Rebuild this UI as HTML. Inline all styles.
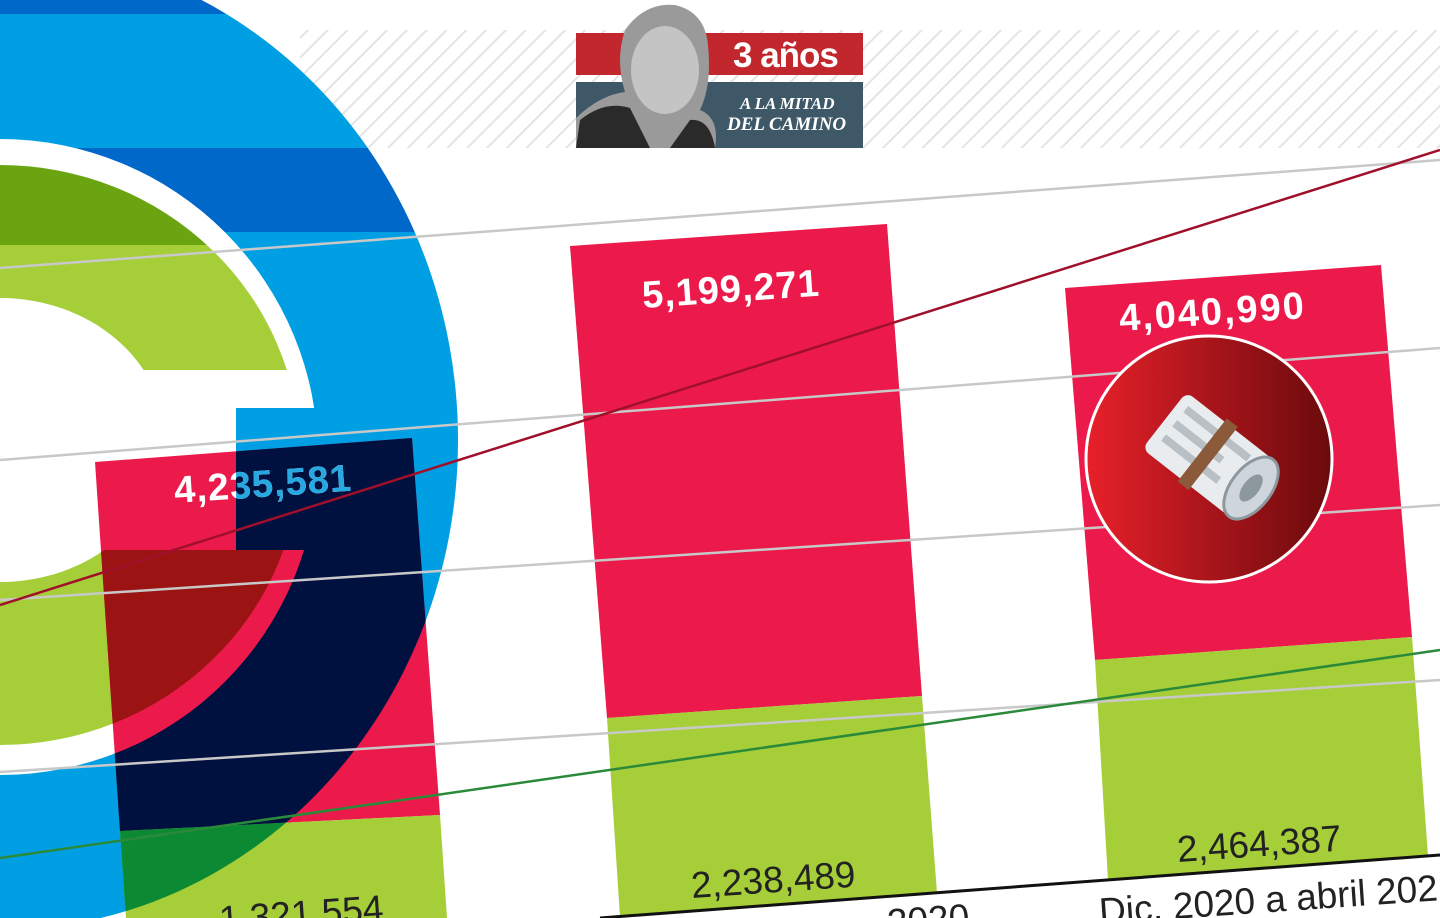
<!DOCTYPE html>
<html><head><meta charset="utf-8"><style>
html,body{margin:0;padding:0;background:#fff;}
svg{display:block;}
text{font-family:"Liberation Sans",sans-serif;}
text.serif{font-family:"Liberation Serif",serif;}
</style></head><body>
<svg width="1440" height="918" viewBox="0 0 1440 918" xmlns="http://www.w3.org/2000/svg">
<defs>
<pattern id="hatch" patternUnits="userSpaceOnUse" width="14" height="14" patternTransform="rotate(45)">
<rect width="14" height="14" fill="#fff"/><rect width="2" height="14" fill="#e4e4e4"/>
</pattern>
<mask id="mb" maskUnits="userSpaceOnUse" x="0" y="0" width="1440" height="918">
<ellipse cx="0" cy="440" rx="458" ry="490" fill="#fff"/>
<ellipse cx="0" cy="457" rx="318" ry="318" fill="#000"/>
<rect x="236" y="408" width="100" height="142" fill="#fff"/>
</mask>
<mask id="mg" maskUnits="userSpaceOnUse" x="0" y="0" width="1440" height="918">
<ellipse cx="0" cy="455" rx="300" ry="290" fill="#fff"/>
<ellipse cx="0" cy="440" rx="165" ry="142" fill="#000"/>
<rect x="90" y="370" width="400" height="180" fill="#000"/>
</mask>
<clipPath id="b1r"><polygon points="95,462 412,438 440,815 120,831"/></clipPath>
<clipPath id="b1g"><polygon points="120,831 440,815 447,918 126,918"/></clipPath>
<linearGradient id="ig" x1="0" y1="0" x2="1" y2="0">
<stop offset="0" stop-color="#e8202a"/><stop offset="1" stop-color="#6a0a0c"/>
</linearGradient>
</defs>

<rect x="300" y="30" width="1140" height="118" fill="url(#hatch)"/>

<g mask="url(#mb)">
<rect x="0" y="0" width="460" height="918" fill="#009fe3"/>
<rect x="0" y="0" width="460" height="14" fill="#0068c8"/>
<rect x="0" y="148" width="460" height="84" fill="#0068c8"/>
</g>
<g mask="url(#mg)">
<rect x="0" y="0" width="320" height="918" fill="#a6ce39"/>
<rect x="0" y="160" width="320" height="85" fill="#6aa511"/>
</g>

<polygon points="95,462 412,438 440,815 120,831" fill="#ec1a4b"/>
<polygon points="120,831 440,815 447,918 126,918" fill="#a6ce39"/>
<polygon points="570,246 887,224 922,696 607,718" fill="#ec1a4b"/>
<polygon points="607,718 922,696 937,893 620,917" fill="#a6ce39"/>
<polygon points="1065,288 1381,265 1412,637 1095,660" fill="#ec1a4b"/>
<polygon points="1095,660 1412,637 1428,856 1108,880" fill="#a6ce39"/>

<g clip-path="url(#b1r)">
<rect x="0" y="0" width="460" height="918" fill="#00103f" mask="url(#mb)"/>
<rect x="0" y="0" width="460" height="918" fill="#9b1313" mask="url(#mg)"/>
</g>
<g clip-path="url(#b1g)">
<rect x="0" y="0" width="460" height="918" fill="#0b8a33" mask="url(#mb)"/>
</g>

<g stroke="#c8c8c8" stroke-width="2.5">
<line x1="0" y1="268" x2="1440" y2="160"/>
<line x1="0" y1="460" x2="1440" y2="348"/>
<line x1="0" y1="600" x2="1440" y2="505"/>
<line x1="0" y1="772" x2="1440" y2="680"/>
</g>
<line x1="0" y1="605" x2="1440" y2="150" stroke="#a0102a" stroke-width="2.5"/>
<line x1="0" y1="858" x2="1440" y2="650" stroke="#2a8a3a" stroke-width="2.5"/>
<line x1="600" y1="918" x2="1440" y2="855" stroke="#111" stroke-width="3"/>

<g font-weight="bold" font-size="38" fill="#fff" letter-spacing="1">
<text x="175" y="503" transform="rotate(-4 175 503)">4,235,581</text>
<g mask="url(#mb)"><text x="175" y="503" transform="rotate(-4 175 503)" fill="#27a8e0">4,235,581</text></g>
<text x="643" y="308" transform="rotate(-4 643 308)">5,199,271</text>
<text x="1120" y="331" transform="rotate(-4 1120 331)" letter-spacing="2">4,040,990</text>
</g>
<g font-size="37" fill="#222">
<text x="692" y="898" transform="rotate(-4 692 898)">2,238,489</text>
<text x="1178" y="862" transform="rotate(-4 1178 862)">2,464,387</text>
<text x="220" y="932" transform="rotate(-4 220 932)">1,321,554</text>
<text x="888" y="935" transform="rotate(-4 888 935)">2020</text>
<text x="1100" y="924" transform="rotate(-4 1100 924)">Dic. 2020 a abril 2021</text>
</g>

<circle cx="1209" cy="459" r="123" fill="url(#ig)" stroke="#fff" stroke-width="3"/>
<g transform="rotate(38 1209 459)">
<rect x="1150" y="420" width="110" height="72" rx="8" fill="#e8ecef"/>
<rect x="1160" y="430" width="80" height="8" fill="#b8c0c6"/>
<rect x="1160" y="448" width="60" height="8" fill="#b8c0c6"/>
<rect x="1160" y="466" width="70" height="8" fill="#b8c0c6"/>
<ellipse cx="1260" cy="456" rx="20" ry="36" fill="#cfd6db" stroke="#8d979e" stroke-width="3"/>
<ellipse cx="1260" cy="456" rx="8" ry="16" fill="#8d979e"/>
<rect x="1198" y="416" width="14" height="80" fill="#8a5a3a"/>
</g>

<rect x="576" y="33" width="287" height="42" fill="#c1272d"/>
<rect x="576" y="82" width="287" height="66" fill="#3f5868"/>
<path d="M576,148 L576,118 Q600,95 625,92 Q615,60 625,30 Q645,2 675,5 Q705,12 708,45 Q712,85 700,110 Q720,118 715,148 Z" fill="#9a9a9a"/>
<path d="M576,148 L580,120 Q605,100 630,108 L650,148 Z" fill="#2a2a2a"/>
<path d="M670,148 L690,120 Q710,118 715,148 Z" fill="#2a2a2a"/>
<ellipse cx="665" cy="70" rx="34" ry="44" fill="#c4c4c4"/>
<text x="733" y="67" font-size="35" font-weight="bold" fill="#fff" letter-spacing="-1">3 años</text>
<text class="serif" x="740" y="109" font-style="italic" font-weight="bold" font-size="17" fill="#fff">A LA MITAD</text>
<text class="serif" x="727" y="130" font-style="italic" font-weight="bold" font-size="19" fill="#fff">DEL CAMINO</text>
</svg>
</body></html>
